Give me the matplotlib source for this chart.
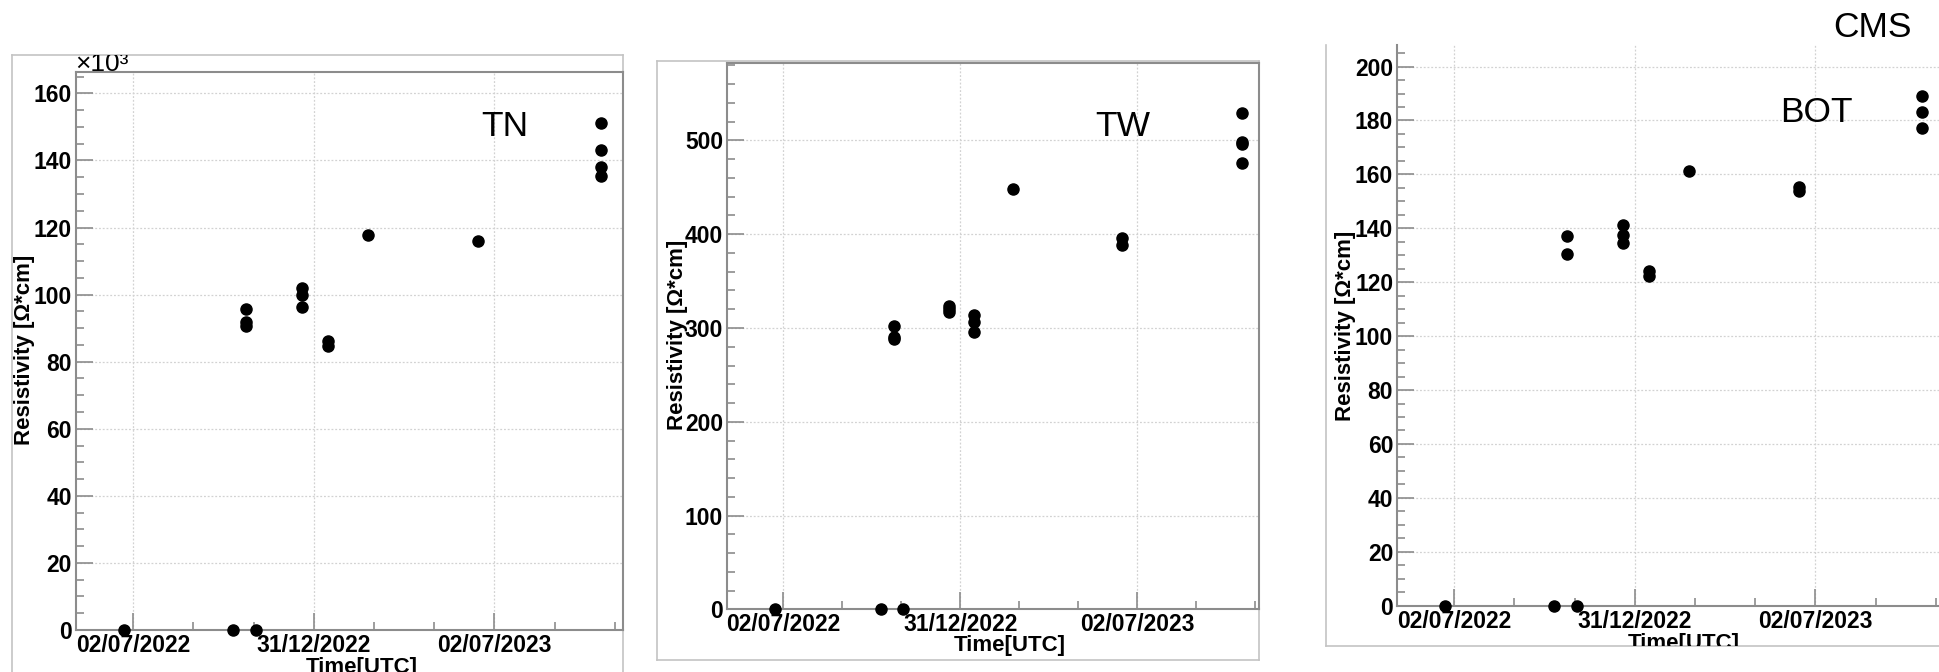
import datetime as dt
import matplotlib
matplotlib.use("Agg")
import matplotlib.pyplot as plt
import matplotlib.dates as mdates
from matplotlib.ticker import FixedLocator, MultipleLocator

plt.rcParams['font.family'] = ['Liberation Sans', 'DejaVu Sans']

# ------------------------------------
# Data (resistivity per chamber)
# ------------------------------------
tn_dates = ['2022-06-23', '2022-10-11', '2022-11-03',
            '2022-10-24', '2022-10-24', '2022-10-24',
            '2022-12-20', '2022-12-20', '2022-12-20',
            '2023-01-15', '2023-01-15', '2023-02-24', '2023-06-16',
            '2023-10-18', '2023-10-18', '2023-10-18', '2023-10-18']
tn_values = [0, 0, 0,
             95.7, 91.8, 90.6,
             102.1, 99.8, 96.4,
             86.2, 84.7, 117.7, 116.0,
             151.1, 143.0, 138.1, 135.4]

tw_dates = ['2022-06-23', '2022-10-11', '2022-11-03',
            '2022-10-24', '2022-10-24', '2022-10-24',
            '2022-12-20', '2022-12-20', '2022-12-20',
            '2023-01-15', '2023-01-15', '2023-01-15',
            '2023-02-24', '2023-06-16', '2023-06-16',
            '2023-10-18', '2023-10-18', '2023-10-18', '2023-10-18']
tw_values = [0, 0, 0,
             301.8, 290.0, 288.5,
             323.3, 320.3, 316.9,
             313.4, 306.5, 295.4,
             448.0, 395.5, 388.7,
             529.2, 498.0, 496.5, 475.9]

bot_dates = ['2022-06-23', '2022-10-11', '2022-11-03',
             '2022-10-24', '2022-10-24',
             '2022-12-20', '2022-12-20', '2022-12-20',
             '2023-01-15', '2023-01-15', '2023-02-24',
             '2023-06-16', '2023-06-16',
             '2023-10-18', '2023-10-18', '2023-10-18']
bot_values = [0, 0, 0,
              137.0, 130.6,
              141.4, 137.6, 134.6,
              124.3, 122.4, 161.3,
              155.4, 153.7,
              188.9, 183.1, 177.1]

tick_dates_start = dt.datetime(2022, 7, 2)

# ------------------------------------
# Figure Setup (pixel layout helpers)
# ------------------------------------
W, H = 1939, 672
fig = plt.figure(figsize=(W / 100, H / 100), dpi=100)


def box(l, t, r, b):
    return [l / W, 1 - b / H, (r - l) / W, (b - t) / H]


def fx(x):
    return x / W


def fy(y):
    return 1 - y / H


def to_dt(s):
    return dt.datetime.strptime(s, '%Y-%m-%d')


panels = [
    dict(dates=tn_dates, values=tn_values, name='TN',
         pad=(11.7, 55.3, 623, 720), pad_hide=[],
         ax=(76, 72.3, 623, 630), ylim=166.3, major=20, minor=5,
         xdays=(-57.9, 495.2), name_xy=(481, 136),
         ylab_xy=(24.4, 350), xlab_xy=(361.7, 656.5), hide=[]),
    dict(dates=tw_dates, values=tw_values, name='TW',
         pad=(657.3, 61, 1259, 660), pad_hide=[],
         ax=(727.3, 63.3, 1259, 609.3), ylim=582.3, major=100, minor=20,
         xdays=(-57.8, 490.8), name_xy=(1095, 136),
         ylab_xy=(677.8, 335.3), xlab_xy=(1009.5, 635.5), hide=[]),
    dict(dates=bot_dates, values=bot_values, name='BOT',
         pad=(1325.7, 45, 1960, 646), pad_hide=['top'],
         ax=(1397.3, 45, 1939, 605.7), ylim=208, major=20, minor=5,
         xdays=(-57.6, 490.2), name_xy=(1780, 121.7),
         ylab_xy=(1345.7, 325.8), xlab_xy=(1684, 633.5), hide=['top', 'right']),
]

axis_gray = '#8c8c8c'
frame_gray = '#c4c4c4'

major_ticks = [mdates.date2num(tick_dates_start + dt.timedelta(days=k * 365.25 / 2))
               for k in range(3)]
minor_ticks = [mdates.date2num(tick_dates_start + dt.timedelta(days=k * 365.25 / 6))
               for k in range(-1, 9) if k % 3 != 0]

for p in panels:
    # outer pad frame
    pad = fig.add_axes(box(*p['pad']))
    pad.set_xticks([])
    pad.set_yticks([])
    for side, sp in pad.spines.items():
        sp.set_color(frame_gray)
        sp.set_linewidth(1.2)
        if side in p['pad_hide']:
            sp.set_visible(False)

    ax = fig.add_axes(box(*p['ax']))
    xs = [to_dt(d) for d in p['dates']]
    ax.plot(xs, p['values'], 'o', color='black', markersize=8, clip_on=False, zorder=5)

    ax.set_xlim(tick_dates_start + dt.timedelta(days=p['xdays'][0]),
                tick_dates_start + dt.timedelta(days=p['xdays'][1]))
    ax.set_ylim(0, p['ylim'])

    ax.xaxis.set_major_locator(FixedLocator(major_ticks))
    ax.xaxis.set_minor_locator(FixedLocator(minor_ticks))
    ax.xaxis.set_major_formatter(mdates.DateFormatter('%d/%m/%Y'))
    ax.yaxis.set_major_locator(MultipleLocator(p['major']))
    ax.yaxis.set_minor_locator(MultipleLocator(p['minor']))

    ax.tick_params(which='both', direction='in', color=axis_gray, width=1.2,
                   top=False, right=False, labelsize=16.5, pad=3)
    ax.tick_params(which='major', length=12)
    ax.tick_params(which='minor', length=6)
    for lab in ax.get_xticklabels() + ax.get_yticklabels():
        lab.set_fontweight('bold')

    ax.grid(True, which='major', color='#d2d2d2', linestyle=(0, (1.5, 1.5)), linewidth=0.9)
    ax.set_axisbelow(True)
    for side, sp in ax.spines.items():
        sp.set_color(axis_gray)
        sp.set_linewidth(1.5)
        if side in p['hide']:
            sp.set_visible(False)

    # texts drawn inside the pad, clipped by it
    pad.text(fx(p['ylab_xy'][0]), fy(p['ylab_xy'][1]), 'Resistivity [Ω*cm]',
             transform=fig.transFigure, rotation=90, ha='center', va='center',
             fontsize=16, fontweight='bold', clip_on=True)
    pad.text(fx(p['xlab_xy'][0]), fy(p['xlab_xy'][1]), 'Time[UTC]',
             transform=fig.transFigure, ha='center', va='top',
             fontsize=16, fontweight='bold', clip_on=True)
    if p['name'] == 'TN':
        pad.text(fx(75), fy(71), '×10³', transform=fig.transFigure,
                 ha='left', va='baseline', fontsize=19,
                 clip_on=True)

# panel names above the inner axes
for p in panels:
    fig.text(fx(p['name_xy'][0]), fy(p['name_xy'][1]), p['name'],
             ha='left', va='baseline', fontsize=25.5)

fig.text(fx(1833.3), fy(37.3), 'CMS', ha='left', va='baseline', fontsize=25.5)

fig.savefig('out.png', dpi=100)
